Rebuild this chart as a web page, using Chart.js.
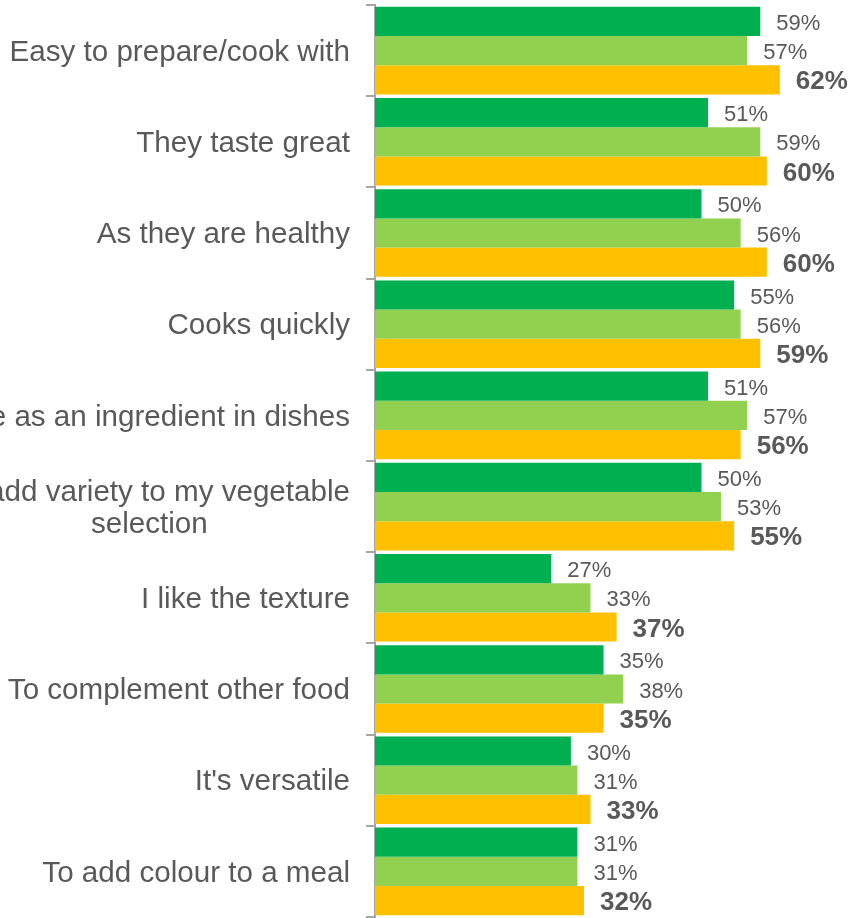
<!DOCTYPE html>
<html lang="en">
<head>
    <meta charset="UTF-8">
    <title>Reasons for buying</title>
    <script src="https://cdn.jsdelivr.net/npm/chart.js"></script>
    <style>
        html, body {
            margin: 0;
            padding: 0;
            background: #fff;
        }
        #wrap {
            width: 853px;
            height: 918px;
        }
    </style>
</head>
<body>
    <div id="wrap"><canvas id="chartCanvas"></canvas></div>

    <script>
        // Categories (multi-line labels are arrays)
        const categories = [
            'Easy to prepare/cook with',
            'They taste great',
            'As they are healthy',
            'Cooks quickly',
            'Use as an ingredient in dishes',
            ['To add variety to my vegetable', 'selection'],
            'I like the texture',
            'To complement other food',
            "It's versatile",
            'To add colour to a meal'
        ];

        // Percentages per series
        const series1 = [59, 51, 50, 55, 51, 50, 27, 35, 30, 31];
        const series2 = [57, 59, 56, 56, 57, 53, 33, 38, 31, 31];
        const series3 = [62, 60, 60, 59, 56, 55, 37, 35, 33, 32];

        const seriesNames = ['Series 1', 'Series 2', 'Series 3'];
        const seriesColors = ['#00B050', '#92D050', '#FFC000'];

        const textColor = '#595959';
        const fontFamily = '"Liberation Sans", Arial, sans-serif';

        // Category names on the left, right aligned, lines centred within a block
        const categoryLabels = {
            id: 'categoryLabels',
            afterDraw(chart) {
                const ctx = chart.ctx;
                const yScale = chart.scales.y;
                const rightX = chart.chartArea.left - 25;
                const lineHeight = 32;
                ctx.save();
                ctx.font = '29.6px ' + fontFamily;
                ctx.fillStyle = textColor;
                ctx.textBaseline = 'middle';
                ctx.textAlign = 'center';
                categories.forEach((label, i) => {
                    const lines = Array.isArray(label) ? label : [label];
                    const maxW = Math.max(...lines.map(l => ctx.measureText(l).width));
                    const cx = rightX - maxW / 2;
                    const cy = yScale.getPixelForValue(i) + 2;
                    const top = cy - (lines.length - 1) * lineHeight / 2;
                    lines.forEach((line, j) => {
                        ctx.fillText(line, cx, top + j * lineHeight);
                    });
                });
                ctx.restore();
            }
        };

        // Value labels at the end of each bar; last series in bold
        const valueLabels = {
            id: 'valueLabels',
            afterDatasetsDraw(chart) {
                const ctx = chart.ctx;
                ctx.save();
                ctx.fillStyle = textColor;
                ctx.textAlign = 'left';
                ctx.textBaseline = 'middle';
                chart.data.datasets.forEach((ds, di) => {
                    const meta = chart.getDatasetMeta(di);
                    ctx.font = di === 2 ? 'bold 26px ' + fontFamily : '22px ' + fontFamily;
                    meta.data.forEach((bar, i) => {
                        ctx.fillText(ds.data[i] + '%', bar.x + 16, bar.y + 2.5);
                    });
                });
                ctx.restore();
            }
        };

        const ctx = document.getElementById('chartCanvas').getContext('2d');
        new Chart(ctx, {
            type: 'bar',
            data: {
                labels: categories,
                datasets: [series1, series2, series3].map((values, i) => ({
                    label: seriesNames[i],
                    data: values,
                    backgroundColor: seriesColors[i],
                    borderWidth: 0,
                    barPercentage: 1.0,
                    categoryPercentage: 0.96
                }))
            },
            options: {
                indexAxis: 'y',
                responsive: true,
                maintainAspectRatio: false,
                animation: false,
                layout: {
                    padding: { top: 5, bottom: 1, left: 0, right: 0 }
                },
                plugins: {
                    legend: { display: false },
                    tooltip: { enabled: false }
                },
                scales: {
                    x: {
                        display: false,
                        min: 0,
                        max: 73.2
                    },
                    y: {
                        afterFit: function(scale) {
                            scale.width = 375;
                        },
                        ticks: { display: false },
                        grid: {
                            offset: true,
                            drawOnChartArea: false,
                            drawTicks: true,
                            tickLength: 9,
                            color: '#a6a6a6',
                            lineWidth: 2
                        },
                        border: {
                            display: true,
                            color: '#a6a6a6',
                            width: 2
                        }
                    }
                }
            },
            plugins: [categoryLabels, valueLabels]
        });
    </script>
</body>
</html>
